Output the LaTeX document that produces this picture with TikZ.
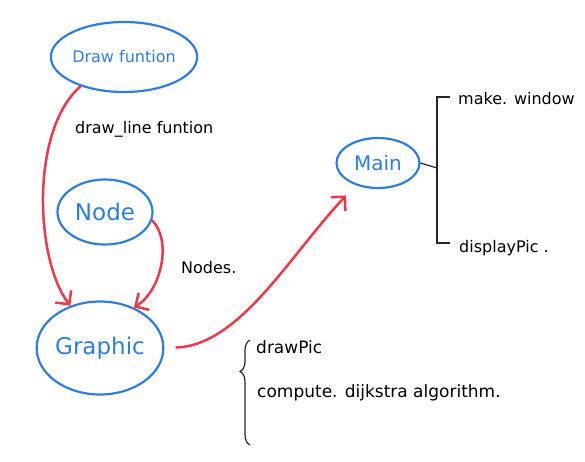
\documentclass[tikz,border=0pt]{standalone}
\usepackage{fontspec}
\setmainfont{DejaVu Sans}
\usetikzlibrary{shapes.geometric,arrows.meta,decorations.pathreplacing,positioning}
\definecolor{penblue}{HTML}{2E7DE0}
\definecolor{penred}{HTML}{EE3A48}
\tikzset{
  bubble/.style={ellipse,draw=penblue,line width=2.2pt,text=penblue,inner sep=0pt},
  flow/.style={draw=penred,line width=2.5pt,line cap=round,-{Straight Barb[length=10pt,width=20pt]}},
  note/.style={anchor=west,inner sep=0pt,font=\fontsize{16}{19}\selectfont},
  branch/.style={draw=black!85,line width=1.2pt}
}
\begin{document}
\begin{tikzpicture}[x=1pt,y=-1pt]
\useasboundingbox (0,0) rectangle (585,461);
\node[bubble,minimum width=130pt,minimum height=70pt,font=\fontsize{16}{19}\selectfont] (drawfn) at (124,57) {Draw funtion};
\node[bubble,minimum width=95pt,minimum height=65pt,font=\fontsize{23}{26}\selectfont] (nodebox) at (105,212) {Node};
\node[bubble,minimum width=118pt,minimum height=93pt,font=\fontsize{23}{26}\selectfont] (graphic) at (100,348) {Graphic};
\node[bubble,minimum width=83pt,minimum height=50pt,font=\fontsize{20}{23}\selectfont] (main) at (378,163) {Main};
\draw[flow] (drawfn.214) .. controls (30,130) and (35,260) .. (graphic.125);
\draw[flow] (nodebox.350) .. controls (172,240) and (162,290) .. (graphic.50);
\draw[flow,shorten <=12pt,shorten >=14pt] (graphic.east) .. controls (240,345) and (290,255) .. (main.225);
\node[note] (drawline) at (75,129) {draw\_line funtion};
\node[note] (nodes) at (181,268) {Nodes.};
\coordinate (fork) at (437,168);
\coordinate (forktop) at (437,97);
\coordinate (forkbot) at (437,243);
\node[note] (mkwin) at (458,99) {make. window};
\node[note] (dispic) at (459,248) {displayPic .};
\draw[branch] (main.east) -- (fork);
\draw[branch] ([xshift=13pt]forktop) -- (forktop) -- (forkbot) -- ([xshift=13pt]forkbot);
\draw[branch,decorate,decoration={brace,amplitude=10pt,aspect=0.7}] (250,445) -- (250,340);
\node[note,font=\fontsize{17}{20}\selectfont] (drawpic) at (256,347) {drawPic};
\node[note,font=\fontsize{17}{20}\selectfont] (dijk) at (257,393) {compute. dijkstra algorithm.};
\end{tikzpicture}
\end{document}
